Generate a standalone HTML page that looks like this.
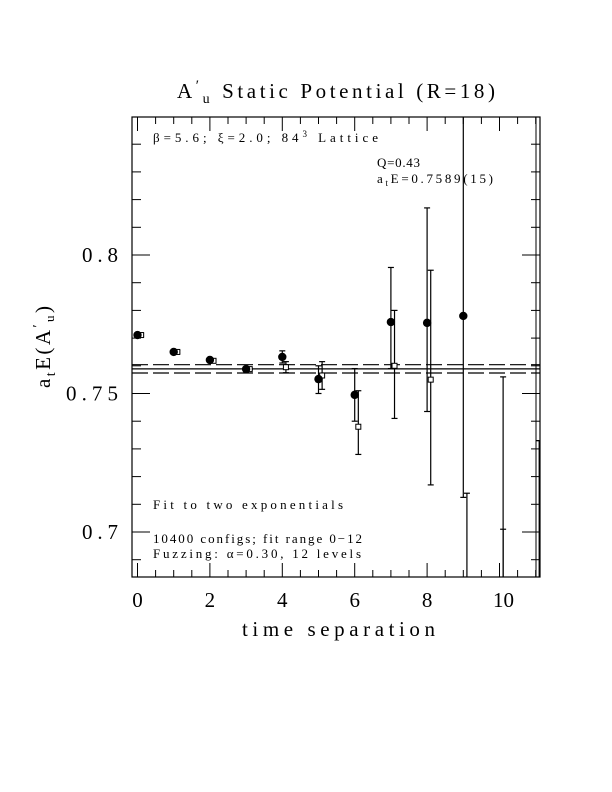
<!DOCTYPE html>
<html><head><meta charset="utf-8"><style>
body{margin:0;background:#fff}
svg{display:block}
text{font-family:"Liberation Serif",serif;fill:#000}
</style></head><body>
<svg id="c" width="612" height="792" viewBox="0 0 612 792">
<rect x="0" y="0" width="612" height="792" fill="#fff"/>
<text x="177" y="98" font-size="21" textLength="318" lengthAdjust="spacing">A<tspan font-size="15" dy="-8">′</tspan><tspan font-size="14" dy="13">u</tspan><tspan dy="-5">  Static Potential (R=18)</tspan></text>
<g id="plot"></g>
<text x="153" y="142" font-size="13" textLength="225" lengthAdjust="spacing">β=5.6; ξ=2.0; 84<tspan font-size="9" dy="-5">3</tspan><tspan dy="5"> Lattice</tspan></text>
<text x="377" y="167" font-size="13" textLength="43" lengthAdjust="spacing">Q=0.43</text>
<text x="377" y="183" font-size="13" textLength="116" lengthAdjust="spacing">a<tspan font-size="9" dy="3">t</tspan><tspan dy="-3">E=0.7589(15)</tspan></text>
<text x="153" y="509" font-size="13" textLength="190" lengthAdjust="spacing">Fit to two exponentials</text>
<text x="153" y="543" font-size="13" textLength="209" lengthAdjust="spacing">10400 configs; fit range 0−12</text>
<text x="153" y="558" font-size="13" textLength="208" lengthAdjust="spacing">Fuzzing: α=0.30, 12 levels</text>
<text x="242" y="636" font-size="21" textLength="193" lengthAdjust="spacing">time separation</text>
<text transform="translate(50,388) rotate(-90)" font-size="21" textLength="82" lengthAdjust="spacing">a<tspan font-size="14" dy="5">t</tspan><tspan dy="-5">E(A</tspan><tspan font-size="14" dy="-8">′</tspan><tspan font-size="13" dy="12">u</tspan><tspan dy="-4">)</tspan></text>
</svg>
<script>
const tFilled=[0,1,2,3,4,5,6,7,8,9];
const vFilled=[0.7711,0.7650,0.7621,0.7588,0.7632,0.7552,0.7495,0.7758,0.7755,0.7780];
const loFilled=[0.7706,0.7645,0.7616,0.7584,0.7610,0.7500,0.7400,0.7590,0.7435,0.7125];
const hiFilled=[0.7716,0.7655,0.7626,0.7592,0.7654,0.7600,0.7590,0.7955,0.8170,0.8600];
const tOpen=[0,1,2,3,4,5,6,7,8,9,10,10,11,11];
const vOpen=[0.7711,0.7650,0.7618,0.7588,0.7595,0.7565,0.7380,0.7600,0.7550,0.6700,0.6600,0.6500,0.6500,0.6500];
const loOpen=[0.7707,0.7646,0.7614,0.7585,0.7575,0.7515,0.7280,0.7410,0.7170,0.6400,0.6300,0.6400,0.6300,0.6300];
const hiOpen=[0.7715,0.7654,0.7622,0.7591,0.7615,0.7615,0.7510,0.7800,0.7945,0.7140,0.7560,0.7010,0.7330,0.7330];
const xTicks=[0,2,4,6,8,10];
const yTicks=[0.7,0.75,0.8];
const fitValue=0.7589, fitErr=0.0015;
const L=132,R=540,T=117,B=577;
const px=t=>137.5+t*36.2;
const py=v=>255+(0.8-v)*2770;
const NS="http://www.w3.org/2000/svg";
const g=document.getElementById('plot');
function mk(tag,a){const e=document.createElementNS(NS,tag);for(const k in a)e.setAttribute(k,a[k]);g.appendChild(e);return e;}
const clip=document.createElementNS(NS,'clipPath');clip.setAttribute('id','cp');
const cr=document.createElementNS(NS,'rect');cr.setAttribute('x',L);cr.setAttribute('y',T);cr.setAttribute('width',R-L);cr.setAttribute('height',B-T);clip.appendChild(cr);g.appendChild(clip);
const fr=mk('rect',{x:L,y:T,width:R-L,height:B-T,fill:'none',stroke:'#000','stroke-width':1.2});


mk('line',{x1:536,y1:T,x2:536,y2:B,stroke:'#000','stroke-width':1});
for(let t=0;t<=11;t+=0.5){const x=px(t);if(x<L||x>R)continue;const maj=Math.abs(t%2)<1e-6;const len=maj?14:7;
mk('line',{x1:x,y1:B,x2:x,y2:B-len,stroke:'#000'});mk('line',{x1:x,y1:T,x2:x,y2:T+len,stroke:'#000'});}
xTicks.forEach(t=>{const e=mk('text',{x:px(t)+(t>=10?4:0),y:607,'font-size':21,'text-anchor':'middle'});e.textContent=t;

});
for(let i=68;i<=85;i++){const v=i/100;const y=py(v);if(y<T||y>B)continue;const maj=i%5===0;const len=maj?18:9;
mk('line',{x1:L,y1:y,x2:L+len,y2:y,stroke:'#000'});mk('line',{x1:R,y1:y,x2:R-len,y2:y,stroke:'#000'});}
yTicks.forEach(v=>{const s=String(v);const e=mk('text',{x:s.length>3?66:82,y:py(v)+7,'font-size':21,textLength:s.length>3?52:36,lengthAdjust:'spacing'});e.textContent=s;

});
const fl=mk('line',{x1:L,x2:R,y1:py(fitValue),y2:py(fitValue),stroke:'#000','stroke-width':1.2});


[fitValue+fitErr,fitValue-fitErr].forEach(v=>{const d=mk('line',{x1:L,x2:R,y1:py(v),y2:py(v),stroke:'#000','stroke-width':1.2,'stroke-dasharray':'16,5'});

});
const dg=document.createElementNS(NS,'g');dg.setAttribute('clip-path','url(#cp)');g.appendChild(dg);
function el(tag,a){const e=document.createElementNS(NS,tag);for(const k in a)e.setAttribute(k,a[k]);dg.appendChild(e);return e;}
function errbar(x,lo,hi){const y1=py(hi),y2=py(lo);el('line',{x1:x,x2:x,y1:y1,y2:y2,stroke:'#000','stroke-width':1.2});
el('line',{x1:x-3,x2:x+3,y1:y1,y2:y1,stroke:'#000','stroke-width':1.2});el('line',{x1:x-3,x2:x+3,y1:y2,y2:y2,stroke:'#000','stroke-width':1.2});}
tOpen.forEach((t,i)=>{const x=px(t+0.1);errbar(x,loOpen[i],hiOpen[i]);
const s=el('rect',{x:x-2.5,y:py(vOpen[i])-2.5,width:5,height:5,fill:'#fff',stroke:'#000','stroke-width':1});

});
tFilled.forEach((t,i)=>{const x=px(t);errbar(x,loFilled[i],hiFilled[i]);
const c=el('circle',{cx:x,cy:py(vFilled[i]),r:4.2,fill:'#000'});

});
</script>
</body></html>
